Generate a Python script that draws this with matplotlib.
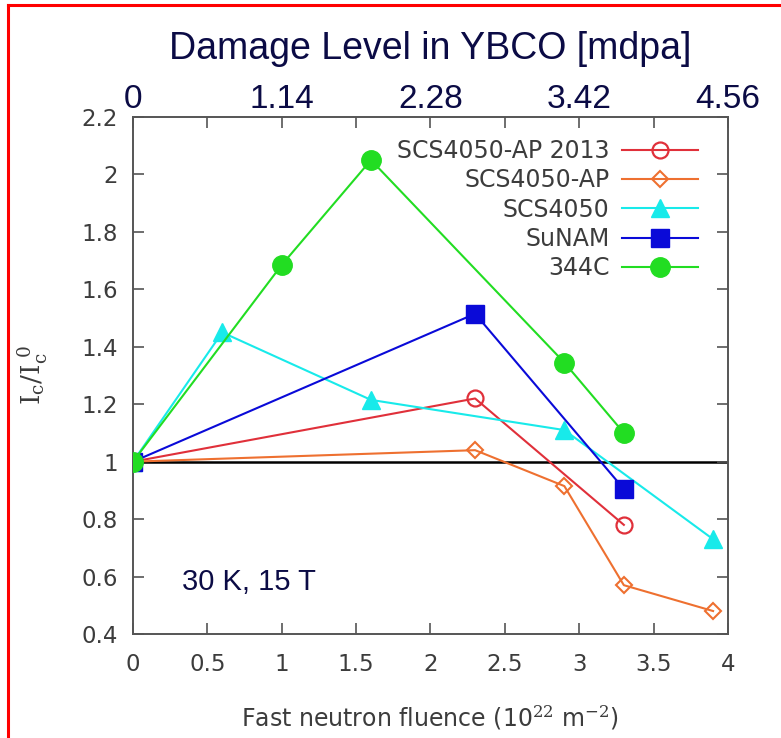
import numpy as np
import matplotlib.pyplot as plt
from matplotlib.lines import Line2D

plt.rcParams['mathtext.fontset'] = 'dejavuserif'

# data
names = ["SCS4050-AP 2013", "SCS4050-AP", "SCS4050", "SuNAM", "344C"]

x_ap2013 = [0, 2.3, 3.3]
y_ap2013 = [1.0, 1.22, 0.78]

x_ap = [0, 2.3, 2.9, 3.3, 3.9]
y_ap = [1.0, 1.04, 0.915, 0.57, 0.48]

x_scs = [0, 0.6, 1.6, 2.9, 3.9]
y_scs = [1.0, 1.45, 1.215, 1.11, 0.73]

x_sunam = [0, 2.3, 3.3]
y_sunam = [1.0, 1.515, 0.905]

x_344c = [0, 1.0, 1.6, 2.9, 3.3]
y_344c = [1.0, 1.685, 2.05, 1.345, 1.10]

top_pos = [0, 1, 2, 3, 4]
top_labels = ["0", "1.14", "2.28", "3.42", "4.56"]

navy = "#0b0b45"
gray = "#3c3c3c"

fig = plt.figure(figsize=(7.81, 7.38), dpi=100)
ax = fig.add_axes([0.1703, 0.1409, 0.7618, 0.7006])

ax.axhline(1.0, color="black", lw=1.8, zorder=1)

ax.plot(x_ap2013, y_ap2013, color="#e0303a", lw=1.5, marker="o", ms=11.5,
        mfc="none", mew=1.6, label=names[0], zorder=3)
ax.plot(x_ap, y_ap, color="#ee7030", lw=1.5, marker="D", ms=8.5,
        mfc="none", mew=1.5, label=names[1], zorder=3)
ax.plot(x_scs, y_scs, color="#18eaea", lw=1.5, marker="^", ms=13,
        label=names[2], zorder=3)
ax.plot(x_sunam, y_sunam, color="#0a0ad8", lw=1.5, marker="s", ms=13,
        label=names[3], zorder=3)
ax.plot(x_344c, y_344c, color="#22dd22", lw=1.5, marker="o", ms=14,
        label=names[4], zorder=4)

ax.set_xlim(0, 4)
ax.set_ylim(0.4, 2.2)
ax.set_xticks(np.arange(0, 4.01, 0.5))
ax.set_xticklabels(["0", "0.5", "1", "1.5", "2", "2.5", "3", "3.5", "4"])
ax.set_yticks(np.arange(0.4, 2.21, 0.2))
ax.set_yticklabels(["0.4", "0.6", "0.8", "1", "1.2", "1.4", "1.6", "1.8", "2", "2.2"])
ax.tick_params(direction="in", length=8, width=1.2, color="#555555",
               top=True, right=True, labelsize=16.5, labelcolor=gray, pad=11)
ax.tick_params(axis="x", pad=14)
for s in ax.spines.values():
    s.set_color("#555555")
    s.set_linewidth(1.4)

ax.set_xlabel(r"Fast neutron fluence (10$^{22}$ m$^{-2}$)", fontsize=17,
              color=gray, labelpad=19)
ax.set_ylabel(r"$\mathrm{I_c/I_c^{\ 0}}$", fontsize=19, color=gray,
              labelpad=22)

# top axis: damage level
sec = ax.secondary_xaxis("top")
sec.set_xticks(top_pos)
sec.set_xticklabels(top_labels)
sec.tick_params(length=0, labelsize=24, labelcolor=navy, pad=1.5)
for t in sec.get_xticklabels():
    t.set_family("Liberation Sans")
sec.spines["top"].set_visible(False)
sec.set_xlabel("Damage Level in YBCO [mdpa]", fontsize=27, color=navy,
               family="Liberation Sans", labelpad=18)

ax.text(0.33, 0.58, "30 K, 15 T", fontsize=21, color=navy,
        family="Liberation Sans", ha="left", va="center")

leg = ax.legend(loc="upper right", markerfirst=False, frameon=False,
                fontsize=17, handlelength=3.2, handletextpad=0.55,
                labelspacing=0.22, borderpad=0, borderaxespad=0,
                bbox_to_anchor=(0.9496, 0.957))
for t in leg.get_texts():
    t.set_color(gray)
for col in leg._legend_handle_box.get_children():
    col.align = "right"

# red frame of the slide crop
fig.add_artist(Line2D([0.0105, 0.0105], [0, 0.993], color="red", lw=2.2,
                      transform=fig.transFigure))
fig.add_artist(Line2D([0.0105, 1.0], [0.993, 0.993], color="red", lw=2.2,
                      transform=fig.transFigure))

fig.savefig("out.png", dpi=100)
